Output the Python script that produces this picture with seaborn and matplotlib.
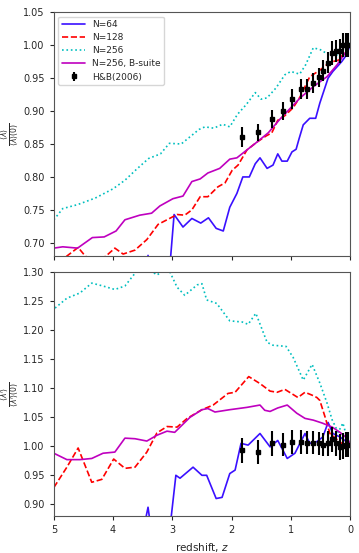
import numpy as np
import pandas as pd
import matplotlib
matplotlib.use("Agg")
import matplotlib.pyplot as plt
import seaborn as sns

# --- DATA ---
# top panel: <lambda>/<lambda>(0)
z64_top = [3.45, 3.41, 3.37, 3.1, 2.97, 2.82, 2.67, 2.52, 2.39, 2.26, 2.14, 2.03, 1.91, 1.81, 1.70,
           1.60, 1.52, 1.40, 1.30, 1.22, 1.15, 1.06, 0.98, 0.91, 0.86, 0.79, 0.68, 0.58, 0.51, 0.37,
           0.29, 0.22, 0.14, 0.06, 0.0]
v64_top = [0.60, 0.681, 0.60, 0.60, 0.743, 0.724, 0.737, 0.730, 0.738, 0.722, 0.718, 0.754, 0.775, 0.800, 0.800,
           0.820, 0.829, 0.813, 0.818, 0.835, 0.824, 0.824, 0.838, 0.842, 0.858, 0.879, 0.889, 0.889, 0.912, 0.950,
           0.960, 0.967, 0.975, 0.985, 1.000]

z128_top = [5.0, 4.78, 4.59, 4.47, 4.3, 4.12, 3.97, 3.83, 3.63, 3.43, 3.24, 3.09, 2.92, 2.79, 2.67,
            2.53, 2.40, 2.23, 2.11, 1.99, 1.89, 1.74, 1.57, 1.42, 1.32, 1.22, 1.1, 0.96, 0.84, 0.68,
            0.51, 0.34, 0.20, 0.08, 0.0]
v128_top = [0.66, 0.68, 0.693, 0.68, 0.67, 0.68, 0.692, 0.683, 0.689, 0.705, 0.728, 0.735, 0.743, 0.742, 0.750,
            0.770, 0.770, 0.785, 0.791, 0.810, 0.818, 0.841, 0.853, 0.862, 0.867, 0.886, 0.893, 0.905, 0.922, 0.952,
            0.962, 0.974, 0.977, 0.990, 1.000]

z256_top = [5.0, 4.85, 4.6, 4.3, 4.0, 3.8, 3.6, 3.4, 3.2, 3.05, 2.85, 2.7, 2.55, 2.45, 2.3,
            2.15, 2.03, 1.9, 1.75, 1.6, 1.5, 1.4, 1.25, 1.1, 1.0, 0.85, 0.75, 0.62, 0.5, 0.35,
            0.2, 0.1, 0.0]
v256_top = [0.735, 0.752, 0.758, 0.768, 0.782, 0.795, 0.812, 0.828, 0.835, 0.851, 0.850, 0.861, 0.872, 0.876, 0.874,
            0.880, 0.876, 0.895, 0.910, 0.928, 0.918, 0.920, 0.935, 0.955, 0.960, 0.956, 0.970, 0.996, 0.993, 0.985,
            0.985, 0.995, 1.003]

zB_top = [5.0, 4.85, 4.6, 4.35, 4.15, 3.95, 3.8, 3.55, 3.35, 3.21, 2.99, 2.82, 2.67, 2.53, 2.40,
          2.20, 2.03, 1.91, 1.74, 1.57, 1.38, 1.18, 1.0, 0.84, 0.62, 0.39, 0.22, 0.08, 0.0]
vB_top = [0.692, 0.694, 0.692, 0.708, 0.709, 0.718, 0.735, 0.742, 0.745, 0.756, 0.767, 0.771, 0.793, 0.797, 0.806,
          0.813, 0.827, 0.829, 0.841, 0.853, 0.867, 0.888, 0.905, 0.920, 0.937, 0.952, 0.970, 0.988, 1.000]

# bottom panel: <lambda'>/<lambda'>(0)
z64_bot = [3.5, 3.41, 3.35, 3.05, 2.94, 2.87, 2.65, 2.5, 2.42, 2.26, 2.16, 2.03, 1.94, 1.84, 1.72,
           1.52, 1.35, 1.22, 1.06, 0.93, 0.76, 0.68, 0.56, 0.46, 0.37, 0.29, 0.17, 0.05, 0.0]
v64_bot = [0.85, 0.895, 0.85, 0.85, 0.950, 0.945, 0.964, 0.950, 0.950, 0.910, 0.912, 0.953, 0.959, 1.005, 1.002,
           1.022, 0.999, 1.010, 0.979, 0.988, 1.022, 1.005, 1.008, 1.016, 1.041, 1.022, 1.016, 1.007, 1.000]

z128_bot = [5.0, 4.78, 4.59, 4.36, 4.19, 3.99, 3.80, 3.63, 3.43, 3.26, 3.09, 2.92, 2.75, 2.5, 2.31,
            2.06, 1.94, 1.71, 1.52, 1.35, 1.23, 1.10, 0.88, 0.76, 0.64, 0.56, 0.51, 0.42, 0.34, 0.20,
            0.05, 0.0]
v128_bot = [0.929, 0.964, 0.997, 0.938, 0.943, 0.978, 0.962, 0.964, 0.990, 1.023, 1.034, 1.033, 1.048, 1.063, 1.071,
            1.091, 1.093, 1.120, 1.108, 1.095, 1.093, 1.098, 1.084, 1.093, 1.088, 1.084, 1.079, 1.050, 1.022, 1.010,
            0.998, 1.000]

z256_bot = [4.98, 4.78, 4.56, 4.36, 4.17, 3.97, 3.80, 3.63, 3.5, 3.4, 3.26, 3.15, 3.04, 2.92, 2.79,
            2.58, 2.5, 2.42, 2.25, 2.03, 1.82, 1.72, 1.59, 1.40, 1.30, 1.08, 0.96, 0.79, 0.64, 0.51,
            0.39, 0.30, 0.20, 0.12, 0.05, 0.0]
v256_bot = [1.238, 1.255, 1.264, 1.281, 1.276, 1.270, 1.276, 1.298, 1.31, 1.305, 1.295, 1.302, 1.300, 1.274, 1.260,
            1.278, 1.280, 1.252, 1.246, 1.216, 1.214, 1.210, 1.229, 1.179, 1.174, 1.172, 1.153, 1.114, 1.141, 1.109,
            1.075, 1.045, 1.024, 1.040, 1.014, 1.010]

zB_bot = [5.0, 4.78, 4.56, 4.36, 4.17, 3.97, 3.80, 3.63, 3.43, 3.26, 3.09, 2.96, 2.87, 2.70, 2.5,
          2.40, 2.28, 2.03, 1.74, 1.52, 1.44, 1.35, 1.22, 1.06, 0.9, 0.76, 0.62, 0.47, 0.30, 0.17,
          0.05, 0.0]
vB_bot = [0.988, 0.977, 0.977, 0.979, 0.988, 0.990, 1.014, 1.013, 1.009, 1.019, 1.026, 1.024, 1.033, 1.050, 1.063,
          1.065, 1.059, 1.063, 1.067, 1.071, 1.062, 1.060, 1.066, 1.071, 1.057, 1.048, 1.045, 1.040, 1.033, 1.024,
          1.014, 1.005]

# H&B(2006) points
z_hb = [1.82, 1.55, 1.32, 1.13, 0.98, 0.83, 0.72, 0.62, 0.53, 0.45, 0.37, 0.31, 0.24, 0.17, 0.12, 0.07, 0.03]
hb_top = [0.861, 0.868, 0.888, 0.900, 0.918, 0.933, 0.934, 0.942, 0.951, 0.961, 0.973, 0.988, 0.991, 0.991,
          1.000, 1.000, 1.000]
hb_top_err = [0.015, 0.013, 0.013, 0.014, 0.015, 0.015, 0.015, 0.015, 0.015, 0.016, 0.016, 0.018, 0.017, 0.018,
              0.018, 0.018, 0.018]
hb_bot = [0.993, 0.990, 1.005, 1.003, 1.007, 1.007, 1.006, 1.006, 1.005, 1.003, 1.005, 1.012, 1.005, 0.999,
          1.000, 1.003, 1.003]
hb_bot_err = [0.021, 0.020, 0.021, 0.020, 0.021, 0.021, 0.020, 0.020, 0.020, 0.020, 0.021, 0.022, 0.021, 0.022,
              0.022, 0.022, 0.022]

labels = ["N=64", "N=128", "N=256", "N=256, B-suite"]
colors = ["#3a10ff", "r", "c", "m"]
styles = ["-", "--", ":", "-"]

sns.set_style("ticks")
plt.rcParams["font.family"] = ["DejaVu Sans"]
plt.rcParams["font.size"] = 7

fig = plt.figure(figsize=(3.59, 5.53), dpi=100)
ax1 = fig.add_axes([0.150, 0.537, 0.825, 0.441])
ax2 = fig.add_axes([0.150, 0.067, 0.825, 0.441])

top = [(z64_top, v64_top), (z128_top, v128_top), (z256_top, v256_top), (zB_top, vB_top)]
bot = [(z64_bot, v64_bot), (z128_bot, v128_bot), (z256_bot, v256_bot), (zB_bot, vB_bot)]

for ax, series, hb, hb_err in [(ax1, top, hb_top, hb_top_err), (ax2, bot, hb_bot, hb_bot_err)]:
    for (zz, vv), lab, col, ls in zip(series, labels, colors, styles):
        df = pd.DataFrame({"z": zz, "v": vv})
        sns.lineplot(data=df, x="z", y="v", ax=ax, color=col, linestyle=ls, lw=1.2,
                     label=lab, sort=False, estimator=None)
    ax.errorbar(z_hb, hb, yerr=hb_err, fmt="s", color="k", ms=3, elinewidth=1.5,
                capsize=0, label="H&B(2006)")
    ax.set_xlim(5, 0)
    ax.set_xticks([5, 4, 3, 2, 1, 0])
    ax.tick_params(labelsize=7, length=3)
    for sp in ax.spines.values():
        sp.set_color("#555555")

ax1.set_ylim(0.68, 1.05)
ax1.set_yticks(np.arange(0.70, 1.051, 0.05))
ax1.set_xticklabels([])
ax1.set_xlabel("")
ax1.set_ylabel(r"$\frac{\langle\lambda\rangle}{\langle\lambda\rangle(0)}$", fontsize=8)
ax1.legend(loc="upper left", fontsize=6.5, handlelength=2.6, borderpad=0.4, labelspacing=0.45,
           handletextpad=0.7)

ax2.set_ylim(0.88, 1.30)
ax2.set_yticks(np.arange(0.90, 1.301, 0.05))
ax2.set_ylabel(r"$\frac{\langle\lambda'\rangle}{\langle\lambda'\rangle(0)}$", fontsize=8)
ax2.set_xlabel("redshift, $z$", fontsize=7.5)
ax2.get_legend().remove()

for ax in (ax1, ax2):
    ax.yaxis.set_label_coords(-0.108, 0.5)

fig.savefig("out.png", dpi=100)
